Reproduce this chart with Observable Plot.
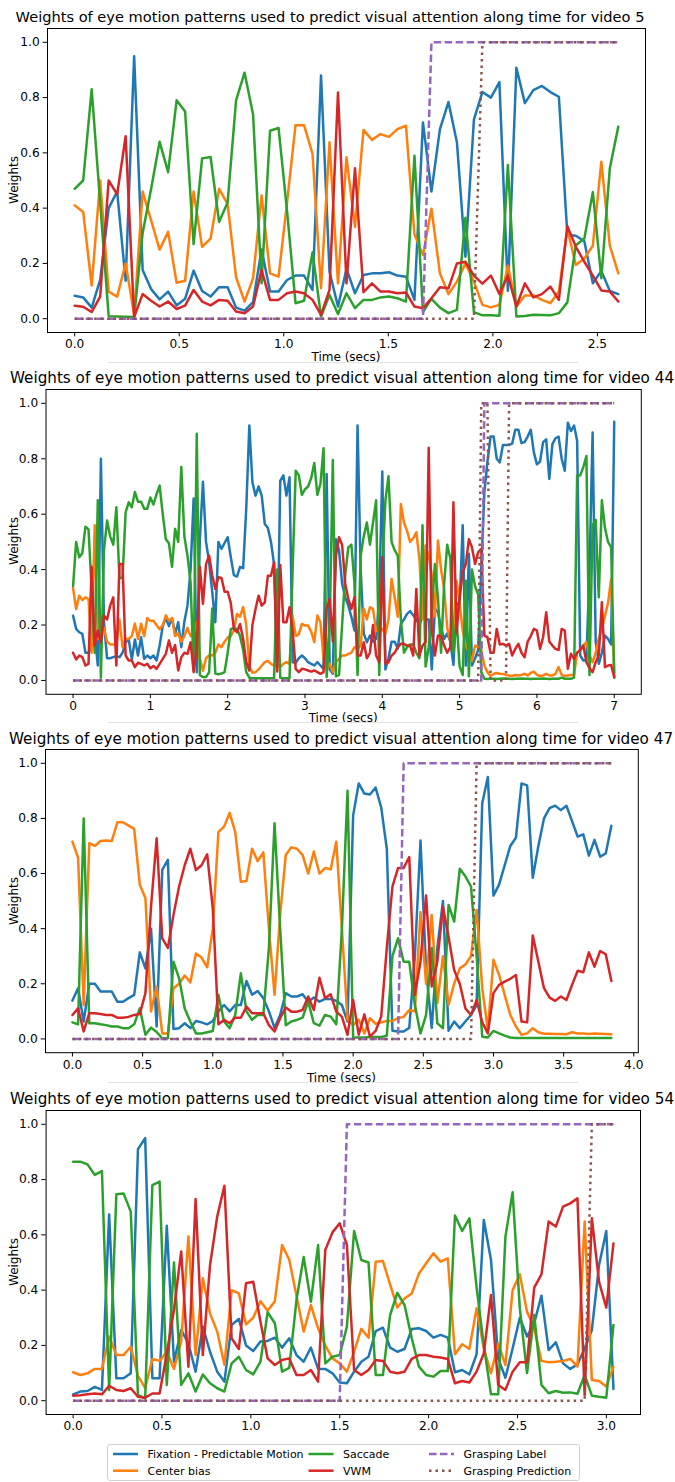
<!DOCTYPE html>
<html>
<head>
<meta charset="utf-8">
<script src="https://cdn.jsdelivr.net/npm/d3@7"></script>
<script src="https://cdn.jsdelivr.net/npm/@observablehq/plot@0.6"></script>
<style>
  html, body { margin: 0; padding: 0; background: #fff; }
  #root { position: relative; width: 675px; height: 1482px; overflow: hidden; font-family: "DejaVu Sans", sans-serif; color: #000; }
  .title { position: absolute; white-space: nowrap; transform: translate(-50%, -50%); color: #000; line-height: 1; }
  .ylab { position: absolute; white-space: nowrap; transform: translate(-50%, -50%) rotate(-90deg); font-size: 12px; line-height: 1; }
  .xlab { position: absolute; white-space: nowrap; transform: translate(-50%, -50%); font-size: 12px; line-height: 1; }
  .panel { position: absolute; left: 0; }
  .sep { position: absolute; height: 0; border-top: 1px solid #e2e2e2; }
  .legend { position: absolute; left: 107px; top: 1444px; width: 473px; height: 37px; border: 1px solid #d0d0d0; border-radius: 3px; background: #fff; box-sizing: border-box; }
  .legend svg { position: absolute; left: 0; top: 0; }
</style>
</head>
<body>
<div id="root"></div>
<script>
// ---------- shared ----------
const seriesNames = ["Fixation - Predictable Motion", "Center bias", "Saccade", "VWM", "Grasping Label", "Grasping Prediction"];
const seriesColors = ["#1f77b4", "#ff7f0e", "#2ca02c", "#d62728", "#9467bd", "#8c564b"];
const yTicks = [0, 0.2, 0.4, 0.6, 0.8, 1.0];

// ---------- video 5 (65 frames, 0 .. 2.6 s) ----------
const v5Duration = 2.6;
const v5Fixation = [0.083,0.077,0.04,0.14,0.40,0.46,0.137,0.95,0.176,0.107,0.07,0.098,0.048,0.072,0.174,0.10,0.08,0.114,0.114,0.04,0.029,0.06,0.25,0.098,0.098,0.14,0.156,0.156,0.104,0.88,0.17,0.044,0.18,0.092,0.158,0.164,0.164,0.168,0.156,0.152,0.068,0.71,0.46,0.686,0.784,0.638,0.224,0.72,0.82,0.80,0.856,0.101,0.908,0.78,0.827,0.842,0.82,0.803,0.304,0.30,0.28,0.128,0.173,0.10,0.089];
const v5Center = [0.41,0.386,0.12,0.50,0.098,0.08,0.20,0.014,0.46,0.356,0.25,0.314,0.13,0.137,0.46,0.26,0.29,0.47,0.415,0.15,0.062,0.146,0.446,0.164,0.152,0.42,0.70,0.70,0.596,0.11,0.638,0.128,0.584,0.332,0.683,0.647,0.668,0.658,0.686,0.698,0.305,0.23,0.398,0.164,0.089,0.134,0.20,0.134,0.05,0.041,0.05,0.192,0.044,0.084,0.084,0.068,0.056,0.098,0.326,0.194,0.218,0.264,0.568,0.264,0.164];
const v5Saccade = [0.47,0.50,0.83,0.42,0.009,0.008,0.007,0.006,0.31,0.47,0.64,0.53,0.79,0.75,0.27,0.58,0.585,0.35,0.42,0.79,0.89,0.74,0.128,0.68,0.69,0.39,0.056,0.065,0.24,0.008,0.086,0.017,0.092,0.038,0.068,0.068,0.077,0.08,0.074,0.062,0.59,0.024,0.072,0.04,0.02,0.032,0.365,0.024,0.012,0.012,0.011,0.556,0.008,0.01,0.014,0.013,0.012,0.02,0.059,0.266,0.29,0.458,0.146,0.544,0.695];
const v5VWM = [0.047,0.043,0.024,0.08,0.50,0.45,0.66,0.006,0.089,0.065,0.044,0.062,0.035,0.047,0.104,0.062,0.048,0.068,0.065,0.026,0.02,0.044,0.176,0.068,0.068,0.092,0.098,0.092,0.068,0.014,0.104,0.818,0.128,0.544,0.096,0.128,0.098,0.098,0.092,0.095,0.044,0.038,0.074,0.114,0.11,0.20,0.206,0.156,0.127,0.156,0.089,0.156,0.044,0.128,0.077,0.089,0.116,0.068,0.335,0.26,0.206,0.156,0.102,0.098,0.062];
const v5LabelOn = [[42, 64]];   // frames where grasping label = 1
const v5PredOn = [[48, 64]];    // frames where grasping prediction = 1
const v5XTicks = [0, 0.5, 1.0, 1.5, 2.0, 2.5];

// ---------- video 44 (176 frames, 0 .. 7 s) ----------
const v44Duration = 7.0;
const v44Fixation = [0.234,0.186,0.174,0.168,0.10,0.10,0.12,0.174,0.054,0.80,0.21,0.08,0.08,0.084,0.088,0.084,0.10,0.138,0.148,0.076,0.148,0.09,0.156,0.078,0.09,0.08,0.09,0.072,0.126,0.196,0.225,0.196,0.225,0.168,0.21,0.12,0.213,0.27,0.40,0.657,0.03,0.51,0.717,0.50,0.427,0.32,0.21,0.50,0.475,0.496,0.517,0.445,0.38,0.375,0.41,0.405,0.62,0.92,0.715,0.667,0.70,0.667,0.565,0.55,0.50,0.42,0.054,0.72,0.74,0.667,0.733,0.066,0.064,0.08,0.09,0.08,0.066,0.06,0.054,0.066,0.054,0.042,0.745,0.04,0.024,0.51,0.47,0.35,0.30,0.27,0.23,0.18,0.92,0.40,0.17,0.138,0.162,0.14,0.15,0.30,0.754,0.04,0.08,0.14,0.14,0.115,0.204,0.22,0.24,0.25,0.235,0.22,0.20,0.235,0.22,0.22,0.04,0.26,0.245,0.19,0.15,0.17,0.14,0.056,0.28,0.27,0.56,0.054,0.457,0.054,0.08,0.11,0.40,0.68,0.79,0.88,0.88,0.80,0.787,0.85,0.85,0.85,0.855,0.905,0.905,0.857,0.86,0.88,0.905,0.823,0.78,0.79,0.86,0.87,0.727,0.853,0.874,0.88,0.80,0.757,0.93,0.90,0.92,0.865,0.09,0.072,0.072,0.40,0.895,0.14,0.06,0.10,0.162,0.15,0.13,0.934];
const v44Center = [0.333,0.258,0.306,0.29,0.30,0.294,0.10,0.56,0.15,0.16,0.19,0.14,0.13,0.13,0.13,0.22,0.12,0.15,0.15,0.16,0.205,0.15,0.205,0.16,0.225,0.215,0.215,0.20,0.185,0.20,0.235,0.215,0.225,0.16,0.17,0.14,0.16,0.19,0.16,0.17,0.21,0.08,0.035,0.08,0.09,0.09,0.10,0.13,0.12,0.14,0.155,0.16,0.18,0.24,0.23,0.265,0.20,0.05,0.028,0.03,0.04,0.053,0.066,0.07,0.06,0.054,0.054,0.048,0.06,0.066,0.06,0.234,0.16,0.167,0.204,0.198,0.198,0.176,0.138,0.234,0.21,0.08,0.04,0.06,0.03,0.066,0.078,0.09,0.09,0.096,0.10,0.12,0.114,0.126,0.26,0.22,0.264,0.258,0.18,0.174,0.186,0.168,0.22,0.366,0.30,0.23,0.637,0.57,0.54,0.50,0.513,0.535,0.44,0.22,0.487,0.45,0.38,0.23,0.505,0.40,0.33,0.19,0.14,0.17,0.36,0.28,0.18,0.126,0.10,0.07,0.126,0.12,0.11,0.054,0.03,0.016,0.024,0.027,0.024,0.023,0.02,0.018,0.016,0.02,0.018,0.02,0.024,0.018,0.027,0.032,0.02,0.016,0.018,0.024,0.018,0.018,0.024,0.048,0.02,0.016,0.018,0.02,0.02,0.10,0.108,0.126,0.138,0.09,0.066,0.10,0.15,0.186,0.234,0.28,0.366,0.03];
const v44Saccade = [0.34,0.50,0.445,0.46,0.555,0.545,0.33,0.10,0.65,0.01,0.47,0.577,0.52,0.49,0.625,0.37,0.37,0.607,0.643,0.625,0.68,0.645,0.645,0.62,0.62,0.66,0.635,0.672,0.703,0.60,0.51,0.495,0.41,0.547,0.50,0.77,0.52,0.45,0.355,0.036,0.89,0.02,0.012,0.012,0.03,0.26,0.025,0.022,0.025,0.03,0.10,0.185,0.19,0.185,0.16,0.11,0.03,0.01,0.008,0.008,0.008,0.008,0.008,0.008,0.008,0.008,0.40,0.01,0.008,0.008,0.008,0.40,0.757,0.74,0.67,0.69,0.70,0.73,0.785,0.67,0.71,0.838,0.012,0.20,0.796,0.015,0.02,0.20,0.38,0.48,0.49,0.35,0.02,0.45,0.52,0.57,0.49,0.57,0.65,0.02,0.40,0.65,0.737,0.50,0.47,0.45,0.22,0.10,0.12,0.13,0.13,0.10,0.08,0.56,0.05,0.12,0.25,0.42,0.30,0.10,0.35,0.49,0.44,0.10,0.22,0.05,0.02,0.36,0.015,0.40,0.34,0.31,0.03,0.006,0.005,0.006,0.006,0.005,0.006,0.007,0.006,0.006,0.005,0.006,0.006,0.007,0.006,0.006,0.005,0.006,0.006,0.006,0.007,0.006,0.005,0.006,0.006,0.006,0.01,0.006,0.006,0.006,0.01,0.74,0.74,0.77,0.81,0.02,0.56,0.58,0.30,0.65,0.55,0.50,0.48,0.01];
const v44VWM = [0.10,0.076,0.09,0.084,0.054,0.06,0.41,0.126,0.18,0.138,0.234,0.22,0.27,0.30,0.054,0.42,0.42,0.09,0.072,0.072,0.048,0.064,0.06,0.054,0.06,0.044,0.052,0.042,0.06,0.078,0.096,0.144,0.10,0.128,0.036,0.084,0.10,0.096,0.138,0.03,0.114,0.41,0.276,0.42,0.45,0.38,0.33,0.373,0.37,0.32,0.32,0.28,0.186,0.174,0.204,0.15,0.066,0.036,0.20,0.258,0.306,0.27,0.282,0.378,0.378,0.427,0.032,0.417,0.21,0.21,0.264,0.18,0.042,0.03,0.042,0.04,0.036,0.032,0.036,0.03,0.024,0.03,0.258,0.294,0.14,0.45,0.517,0.49,0.35,0.294,0.258,0.30,0.09,0.09,0.138,0.08,0.10,0.20,0.09,0.066,0.445,0.06,0.066,0.09,0.10,0.12,0.132,0.132,0.126,0.126,0.09,0.33,0.09,0.126,0.138,0.84,0.18,0.09,0.162,0.16,0.126,0.10,0.12,0.643,0.17,0.30,0.39,0.42,0.51,0.48,0.42,0.463,0.475,0.162,0.156,0.10,0.10,0.186,0.13,0.132,0.126,0.132,0.09,0.114,0.132,0.10,0.084,0.14,0.16,0.186,0.18,0.114,0.156,0.246,0.14,0.126,0.114,0.11,0.186,0.18,0.042,0.096,0.078,0.10,0.11,0.126,0.066,0.044,0.03,0.066,0.09,0.282,0.048,0.054,0.056,0.012];
const v44LabelOn = [[133, 175]];
const v44PredOn = [[132, 134], [141, 175]];
const v44XTicks = [0, 1, 2, 3, 4, 5, 6, 7];

// ---------- video 47 (97 frames, 0 .. 3.84 s) ----------
const v47Duration = 3.84;
const v47Fixation = [0.139,0.184,0.063,0.20,0.20,0.172,0.172,0.172,0.135,0.135,0.148,0.16,0.314,0.256,0.40,0.045,0.613,0.65,0.036,0.039,0.057,0.039,0.065,0.06,0.053,0.065,0.10,0.123,0.10,0.123,0.123,0.21,0.16,0.174,0.148,0.10,0.04,0.087,0.166,0.154,0.154,0.162,0.135,0.15,0.135,0.145,0.145,0.138,0.123,0.063,0.81,0.927,0.89,0.887,0.912,0.84,0.69,0.03,0.027,0.027,0.04,0.30,0.72,0.25,0.04,0.33,0.50,0.03,0.063,0.039,0.063,0.087,0.123,0.855,0.95,0.52,0.56,0.63,0.70,0.73,0.927,0.92,0.585,0.70,0.80,0.837,0.846,0.83,0.846,0.79,0.734,0.742,0.665,0.722,0.661,0.673,0.773];
const v47Center = [0.716,0.658,0.123,0.71,0.70,0.718,0.72,0.718,0.786,0.786,0.774,0.762,0.559,0.51,0.10,0.19,0.02,0.02,0.184,0.20,0.23,0.205,0.31,0.295,0.26,0.40,0.75,0.77,0.82,0.75,0.57,0.573,0.69,0.645,0.677,0.40,0.16,0.45,0.667,0.695,0.69,0.667,0.60,0.68,0.60,0.62,0.615,0.715,0.40,0.07,0.05,0.07,0.02,0.075,0.055,0.06,0.065,0.065,0.075,0.08,0.105,0.10,0.46,0.20,0.45,0.13,0.30,0.123,0.20,0.256,0.27,0.30,0.468,0.184,0.033,0.287,0.232,0.16,0.087,0.045,0.015,0.02,0.039,0.024,0.019,0.019,0.018,0.018,0.017,0.024,0.02,0.02,0.018,0.02,0.019,0.018,0.017];
const v47Saccade = [0.06,0.053,0.80,0.057,0.057,0.053,0.05,0.045,0.045,0.039,0.039,0.053,0.111,0.015,0.041,0.025,0.002,0.002,0.28,0.22,0.11,0.063,0.02,0.02,0.024,0.029,0.16,0.063,0.039,0.087,0.238,0.10,0.069,0.087,0.087,0.33,0.782,0.40,0.05,0.063,0.069,0.077,0.135,0.057,0.048,0.087,0.081,0.053,0.40,0.90,0.005,0.005,0.005,0.007,0.007,0.007,0.012,0.30,0.365,0.28,0.28,0.123,0.02,0.087,0.33,0.057,0.039,0.486,0.426,0.617,0.59,0.553,0.30,0.008,0.005,0.029,0.02,0.012,0.005,0.003,0.003,0.003,0.003,0.003,0.003,0.003,0.003,0.003,0.003,0.003,0.003,0.003,0.003,0.003,0.003,0.003,0.003];
const v47VWM = [0.087,0.111,0.027,0.093,0.093,0.09,0.087,0.087,0.077,0.077,0.08,0.087,0.09,0.166,0.48,0.728,0.365,0.33,0.45,0.553,0.63,0.69,0.613,0.63,0.67,0.474,0.053,0.069,0.057,0.077,0.077,0.117,0.093,0.093,0.093,0.05,0.027,0.075,0.114,0.099,0.099,0.105,0.154,0.105,0.222,0.148,0.162,0.099,0.081,0.015,0.141,0.015,0.089,0.008,0.029,0.081,0.33,0.553,0.62,0.62,0.66,0.16,0.28,0.52,0.19,0.28,0.48,0.37,0.25,0.20,0.111,0.087,0.141,0.06,0.02,0.166,0.196,0.208,0.218,0.232,0.063,0.06,0.375,0.28,0.184,0.15,0.138,0.154,0.141,0.196,0.247,0.242,0.314,0.262,0.319,0.307,0.21];
const v47LabelOn = [[59, 96]];
const v47PredOn = [[72, 96]];
const v47XTicks = [0, 0.5, 1.0, 1.5, 2.0, 2.5, 3.0, 3.5, 4.0];

// ---------- video 54 (76 frames, 0 .. 3.04 s) ----------
const v54Duration = 3.04;
const v54Fixation = [0.023,0.033,0.035,0.05,0.039,0.674,0.081,0.081,0.099,0.91,0.95,0.081,0.081,0.633,0.141,0.256,0.207,0.105,0.268,0.177,0.105,0.069,0.274,0.296,0.20,0.18,0.214,0.216,0.228,0.192,0.226,0.165,0.141,0.192,0.115,0.115,0.099,0.066,0.063,0.105,0.141,0.159,0.252,0.264,0.192,0.177,0.187,0.259,0.262,0.252,0.228,0.238,0.228,0.103,0.111,0.095,0.168,0.654,0.509,0.153,0.083,0.189,0.30,0.232,0.28,0.38,0.183,0.211,0.135,0.115,0.131,0.189,0.256,0.491,0.614,0.042];
const v54Center = [0.103,0.093,0.099,0.115,0.115,0.232,0.165,0.165,0.195,0.09,0.045,0.151,0.144,0.177,0.115,0.214,0.594,0.165,0.443,0.316,0.25,0.13,0.40,0.388,0.276,0.30,0.36,0.325,0.36,0.563,0.51,0.38,0.25,0.346,0.262,0.20,0.153,0.135,0.105,0.177,0.26,0.228,0.503,0.505,0.42,0.337,0.37,0.388,0.46,0.497,0.533,0.503,0.515,0.168,0.204,0.187,0.334,0.189,0.099,0.207,0.129,0.40,0.457,0.322,0.262,0.144,0.139,0.141,0.144,0.151,0.123,0.648,0.075,0.071,0.051,0.123];
const v54Saccade = [0.865,0.865,0.855,0.817,0.831,0.039,0.747,0.75,0.684,0.02,0.008,0.78,0.793,0.057,0.50,0.057,0.099,0.033,0.095,0.063,0.045,0.033,0.135,0.159,0.111,0.095,0.141,0.32,0.28,0.105,0.119,0.364,0.52,0.358,0.563,0.135,0.159,0.165,0.268,0.614,0.509,0.50,0.093,0.093,0.31,0.39,0.346,0.226,0.123,0.093,0.087,0.107,0.107,0.67,0.614,0.66,0.41,0.20,0.023,0.023,0.593,0.754,0.334,0.10,0.31,0.057,0.027,0.035,0.029,0.03,0.025,0.093,0.018,0.014,0.011,0.274];
const v54VWM = [0.018,0.02,0.023,0.026,0.023,0.054,0.039,0.035,0.045,0.014,0.011,0.026,0.026,0.17,0.33,0.54,0.123,0.73,0.165,0.49,0.666,0.778,0.226,0.187,0.425,0.43,0.286,0.153,0.129,0.147,0.153,0.093,0.093,0.111,0.069,0.545,0.609,0.642,0.563,0.111,0.093,0.111,0.147,0.144,0.105,0.099,0.105,0.151,0.165,0.165,0.159,0.156,0.151,0.063,0.071,0.066,0.105,0.171,0.382,0.057,0.039,0.105,0.139,0.139,0.409,0.457,0.648,0.63,0.702,0.714,0.732,0.02,0.66,0.43,0.337,0.569];
const v54LabelOn = [[38, 75]];
const v54PredOn = [[72, 75]];
const v54XTicks = [0, 0.5, 1.0, 1.5, 2.0, 2.5, 3.0];

// ---------- layout ----------
const panels = [
  { video: 5,  duration: v5Duration,  series: [v5Fixation, v5Center, v5Saccade, v5VWM],  labelOn: v5LabelOn,  predOn: v5PredOn,  xTicks: v5XTicks,  xFmt: ".1f",
    frame: {l: 47, r: 645, t: 27.7, b: 331.7}, title: {x: 330, y: 17, size: 14.6}, sep: {x1: 108, x2: 578, y: 362}, xlabel: true },
  { video: 44, duration: v44Duration, series: [v44Fixation, v44Center, v44Saccade, v44VWM], labelOn: v44LabelOn, predOn: v44PredOn, xTicks: v44XTicks, xFmt: "d",
    frame: {l: 45.5, r: 640.8, t: 388.6, b: 693.4}, title: {x: 342, y: 379, size: 15.2}, sep: {x1: 108, x2: 578, y: 722}, xlabel: true },
  { video: 47, duration: v47Duration, series: [v47Fixation, v47Center, v47Saccade, v47VWM], labelOn: v47LabelOn, predOn: v47PredOn, xTicks: v47XTicks, xFmt: ".1f",
    frame: {l: 45, r: 637.8, t: 749.3, b: 1052.5}, title: {x: 341, y: 740, size: 15.2}, sep: {x1: 108, x2: 578, y: 1082}, xlabel: true },
  { video: 54, duration: v54Duration, series: [v54Fixation, v54Center, v54Saccade, v54VWM], labelOn: v54LabelOn, predOn: v54PredOn, xTicks: v54XTicks, xFmt: ".1f",
    frame: {l: 45.6, r: 640, t: 1110, b: 1414}, title: {x: 342, y: 1100, size: 15.2}, sep: null, xlabel: false }
];

const root = document.getElementById("root");

function stepFromIntervals(n, intervals) {
  const a = new Array(n).fill(0);
  for (const [s, e] of intervals) for (let k = s; k <= e && k < n; k++) a[k] = 1;
  return a;
}

const lineStyles = [
  {strokeWidth: 2.5},
  {strokeWidth: 2.5},
  {strokeWidth: 2.5},
  {strokeWidth: 2.5},
  {strokeWidth: 2.5, strokeDasharray: "7.5,3.5", strokeLinecap: "butt"},
  {strokeWidth: 2.5, strokeDasharray: "2.5,4", strokeLinecap: "butt"}
];

for (const p of panels) {
  const n = p.series[0].length;
  const dt = p.duration / (n - 1);
  const allSeries = [...p.series, stepFromIntervals(n, p.labelOn), stepFromIntervals(n, p.predOn)];
  const rows = [];
  allSeries.forEach((vals, si) => vals.forEach((v, k) => rows.push({t: k * dt, v, s: si})));

  const svgTop = p.frame.t - 8;
  const svgH = 345;
  const T = p.duration;
  const marks = lineStyles.map((st, si) =>
    Plot.line(rows.filter(d => d.s === si), {x: "t", y: "v", stroke: seriesColors[si], strokeLinejoin: "round", ...st})
  );
  const chart = Plot.plot({
    width: 675,
    height: svgH,
    marginLeft: p.frame.l,
    marginRight: 675 - p.frame.r,
    marginTop: p.frame.t - svgTop,
    marginBottom: svgTop + svgH - p.frame.b,
    style: {fontFamily: "'DejaVu Sans', sans-serif", fontSize: "12.2px", color: "#000", background: "transparent", overflow: "visible"},
    x: {domain: [-0.05 * T, 1.05 * T], ticks: p.xTicks, tickFormat: d3.format(p.xFmt), tickSize: 4.3, tickPadding: 3, label: null},
    y: {domain: [-0.05, 1.05], ticks: yTicks, tickFormat: d3.format(".1f"), tickSize: 4.3, tickPadding: 3.5, label: null},
    marks: [...marks, Plot.frame({stroke: "#000", strokeWidth: 1})]
  });
  const holder = document.createElement("div");
  holder.className = "panel";
  holder.style.top = svgTop + "px";
  holder.appendChild(chart);
  root.appendChild(holder);

  const title = document.createElement("div");
  title.className = "title";
  title.style.left = p.title.x + "px";
  title.style.top = p.title.y + "px";
  title.style.fontSize = p.title.size + "px";
  title.textContent = `Weights of eye motion patterns used to predict visual attention along time for video ${p.video}`;
  root.appendChild(title);

  const yl = document.createElement("div");
  yl.className = "ylab";
  yl.style.left = "14px";
  yl.style.top = ((p.frame.t + p.frame.b) / 2) + "px";
  yl.textContent = "Weights";
  root.appendChild(yl);

  if (p.xlabel) {
    const xl = document.createElement("div");
    xl.className = "xlab";
    xl.style.left = ((p.frame.l + p.frame.r) / 2) + "px";
    xl.style.top = (p.frame.b + 25) + "px";
    xl.textContent = "Time (secs)";
    root.appendChild(xl);
  }

  if (p.sep) {
    const s = document.createElement("div");
    s.className = "sep";
    s.style.left = p.sep.x1 + "px";
    s.style.width = (p.sep.x2 - p.sep.x1) + "px";
    s.style.top = p.sep.y + "px";
    root.appendChild(s);
  }
}

// ---------- legend ----------
const legend = document.createElement("div");
legend.className = "legend";
const lsvg = d3.create("svg").attr("width", 473).attr("height", 37);
const legendCols = [5, 200.5, 321];
const legendRows = [9, 25.7];
const handleLen = 25, handlePad = 9.5;
seriesNames.forEach((name, si) => {
  const col = Math.floor(si / 2), row = si % 2;
  const x0 = legendCols[col], y0 = legendRows[row];
  const st = lineStyles[si];
  const ln = lsvg.append("line").attr("x1", x0).attr("x2", x0 + handleLen).attr("y1", y0).attr("y2", y0)
    .attr("stroke", seriesColors[si]).attr("stroke-width", st.strokeWidth);
  if (st.strokeDasharray) ln.attr("stroke-dasharray", st.strokeDasharray).attr("stroke-linecap", "butt");
  lsvg.append("text").attr("x", x0 + handleLen + handlePad).attr("y", y0).attr("dy", "0.35em")
    .attr("font-family", "DejaVu Sans, sans-serif").attr("font-size", 11).attr("fill", "#000")
    .text(name);
});
legend.appendChild(lsvg.node());
root.appendChild(legend);
</script>
</body>
</html>
